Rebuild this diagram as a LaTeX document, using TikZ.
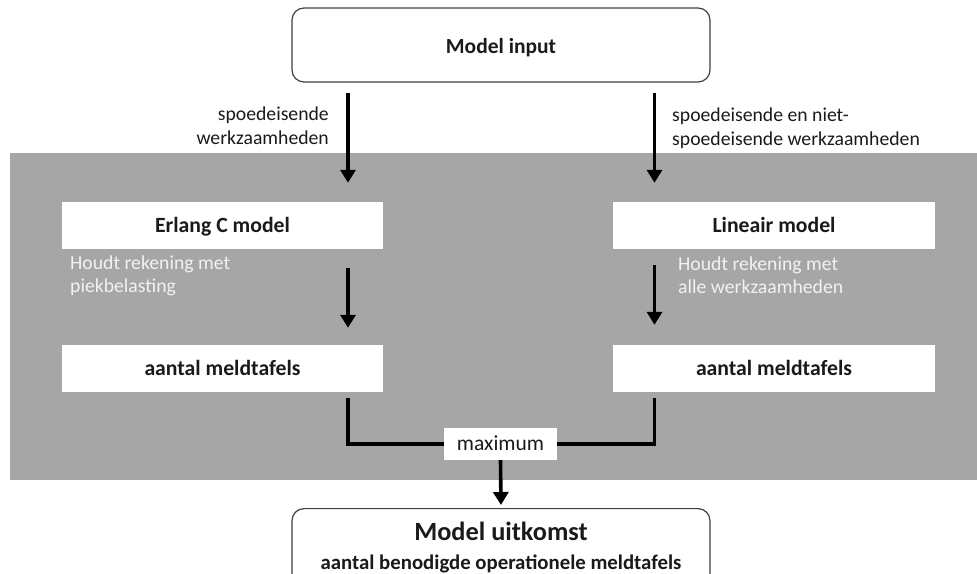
\documentclass[tikz,border=0pt]{standalone}
\usepackage{fontspec}
\setmainfont{Carlito}
\usetikzlibrary{arrows.meta,calc}
\definecolor{graybg}{HTML}{A6A6A6}
\definecolor{txt}{HTML}{1A1A1A}
\definecolor{wtxt}{HTML}{F2F2F2}
\definecolor{edge}{HTML}{404040}
\begin{document}
\begin{tikzpicture}[x=1pt,y=-1pt,
 rbox/.style={draw=edge,line width=1.2pt,rounded corners=12pt,fill=white,inner sep=0pt},
 wbox/.style={fill=white,draw=none,inner sep=0pt,text=txt,font=\fontsize{21.7}{24}\selectfont\bfseries},
 lbl/.style={inner sep=0pt,text=txt,font=\fontsize{19.7}{24}\selectfont},
 wlbl/.style={inner sep=0pt,text=wtxt,font=\fontsize{19.7}{23}\selectfont,align=left,anchor=base west},
 arr/.style={line width=3.6pt,-{Triangle[length=13pt,width=15pt]}},
 conn/.style={line width=3.6pt}]
\useasboundingbox (0,0) rectangle (977,573);
\clip (0,0) rectangle (977,573);
\fill[graybg] (10,153) rectangle (977,480);

\node[rbox,minimum width=418pt,minimum height=74pt,text height=18pt,text depth=2pt,
      font=\fontsize{21.5}{24}\selectfont\bfseries,text=txt] (mi) at (501,45) {Model input};

\node[wbox,minimum width=321pt,minimum height=47pt,text height=15pt,text depth=2pt] (erl) at (222.5,225.5) {Erlang C model};
\node[wbox,minimum width=322pt,minimum height=47pt,text height=15pt,text depth=2pt] (lin) at (774,225.5) {Lineair model};
\node[wbox,minimum width=321pt,minimum height=47pt,text height=15pt,text depth=2pt] (al) at (222.5,368.5) {aantal meldtafels};
\node[wbox,minimum width=322pt,minimum height=47pt,text height=15pt,text depth=2pt] (ar) at (774,368.5) {aantal meldtafels};
\node[wbox,font=\fontsize{21.5}{24}\selectfont,minimum width=113pt,minimum height=32pt,text height=14pt,text depth=2pt] (mx) at (500.5,444) {maximum};

\node[rbox,minimum width=418pt,minimum height=90pt,anchor=north] (mu) at (501,508) {};
\node[anchor=base,inner sep=0pt,text=txt,font=\fontsize{26.3}{30}\selectfont\bfseries] (mut) at (501,540) {Model uitkomst};
\node[anchor=base,inner sep=0pt,text=txt,font=\fontsize{20.8}{24}\selectfont\bfseries] (mus) at (501,569) {aantal benodigde operationele meldtafels};

\node[lbl,align=right,anchor=base east] (lab1) at (329,144) {spoedeisende\\werkzaamheden};
\node[lbl,align=left,anchor=base west] (lab2) at (672,145) {spoedeisende en niet-\\spoedeisende werkzaamheden};
\node[wlbl] (d1) at (70,292) {Houdt rekening met\\piekbelasting};
\node[wlbl] (d2) at (678,293) {Houdt rekening met\\alle werkzaamheden};

\coordinate (xl) at (348,0);
\coordinate (xr) at (654.5,0);
\draw[arr,shorten <=10pt,shorten >=19pt] (mi.south -| xl) -- (erl.north -| xl);
\draw[arr,shorten <=10pt,shorten >=19pt] (mi.south -| xr) -- (lin.north -| xr);
\draw[arr,shorten <=19pt,shorten >=17pt] (erl.south -| xl) -- (al.north -| xl);
\draw[arr,shorten <=16pt,shorten >=20pt] (lin.south -| xr) -- (ar.north -| xr);
\draw[conn] ($(al.south -| xl)+(0,6)$) |- (mx.west);
\draw[conn] ($(ar.south -| xr)+(0,6)$) |- (mx.east);
\draw[arr,shorten >=3pt] (mx.south) -- (mu.north);
\end{tikzpicture}
\end{document}
